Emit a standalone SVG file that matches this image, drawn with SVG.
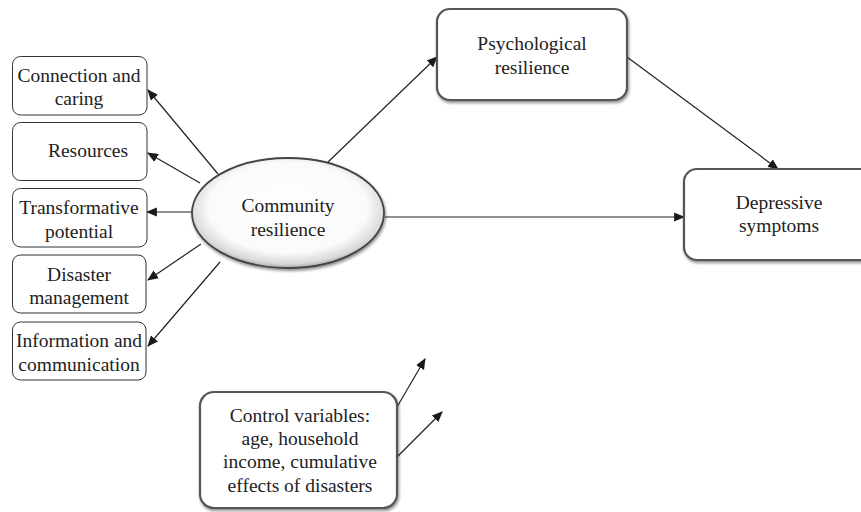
<svg xmlns="http://www.w3.org/2000/svg" width="861" height="512" viewBox="0 0 861 512">
<style>
text{font-family:'Liberation Serif',serif;font-size:19.5px;fill:#222;text-anchor:middle}
.sbox{fill:#fff;stroke:#333;stroke-width:1}
.bbox{fill:#fff;stroke:#555;stroke-width:2.2;filter:url(#sh)}
.edge{stroke:#222;stroke-width:1.2;fill:none;marker-end:url(#ah)}
</style>
<defs>
<marker id="ah" viewBox="0 0 10 10" refX="9" refY="5" markerWidth="11" markerHeight="11" markerUnits="userSpaceOnUse" orient="auto">
<path d="M0,0.8 L10,5 L0,9.2 z" fill="#1a1a1a"/>
</marker>
<filter id="sh" x="-10%" y="-10%" width="125%" height="130%">
<feGaussianBlur in="SourceAlpha" stdDeviation="1.5"/>
<feOffset dx="1" dy="2" result="b"/>
<feComponentTransfer in="b" result="c"><feFuncA type="linear" slope="0.45"/></feComponentTransfer>
<feMerge><feMergeNode in="c"/><feMergeNode in="SourceGraphic"/></feMerge>
</filter>
<radialGradient id="eg" cx="50%" cy="45%" r="55%">
<stop offset="0" stop-color="#fff"/>
<stop offset="0.75" stop-color="#fafafa"/>
<stop offset="0.93" stop-color="#d8d8d8"/>
<stop offset="1" stop-color="#aaa"/>
</radialGradient>
</defs>
<g id="connectors">
<line class="edge" x1="218" y1="174" x2="148" y2="90"/>
<line class="edge" x1="200" y1="183" x2="148" y2="153"/>
<line class="edge" x1="192" y1="212" x2="147" y2="212"/>
<line class="edge" x1="201" y1="244" x2="148" y2="280"/>
<line class="edge" x1="220" y1="262" x2="148" y2="346"/>
<line class="edge" x1="327" y1="163" x2="437" y2="57"/>
<line class="edge" x1="627" y1="57" x2="778" y2="169"/>
<line class="edge" x1="385" y1="217" x2="684" y2="217"/>
<line class="edge" x1="397" y1="407" x2="425" y2="359"/>
<line class="edge" x1="397" y1="457" x2="442" y2="412"/>
</g>
<g id="n-connection">
<rect class="sbox" x="12.5" y="56.5" width="134.5" height="58.5" rx="8"/>
<text x="79" y="82">Connection and</text>
<text x="79" y="105">caring</text>
</g>
<g id="n-resources">
<rect class="sbox" x="12.5" y="122.5" width="134.5" height="58" rx="8"/>
<text x="88" y="157">Resources</text>
</g>
<g id="n-transformative">
<rect class="sbox" x="12.5" y="188.5" width="134.5" height="58.5" rx="8"/>
<text x="79" y="214">Transformative</text>
<text x="79" y="238">potential</text>
</g>
<g id="n-disaster">
<rect class="sbox" x="12.5" y="255" width="133.5" height="58" rx="8"/>
<text x="79" y="281">Disaster</text>
<text x="79" y="304">management</text>
</g>
<g id="n-information">
<rect class="sbox" x="12.5" y="322" width="133.5" height="58" rx="8"/>
<text x="79" y="347">Information and</text>
<text x="79" y="371">communication</text>
</g>
<g id="n-community">
<ellipse cx="288" cy="213" rx="96" ry="55" fill="url(#eg)" stroke="#444" stroke-width="1.8" filter="url(#sh)"/>
<text x="288" y="212">Community</text>
<text x="288" y="236">resilience</text>
</g>
<g id="n-psychological">
<rect class="bbox" x="437" y="9" width="190" height="91" rx="13"/>
<text x="532" y="50">Psychological</text>
<text x="532" y="74">resilience</text>
</g>
<g id="n-depressive">
<rect class="bbox" x="684" y="169" width="192" height="91" rx="13"/>
<text x="779" y="209">Depressive</text>
<text x="779" y="232">symptoms</text>
</g>
<g id="n-control">
<rect class="bbox" x="200" y="392" width="197" height="116" rx="14"/>
<text x="300" y="422">Control variables:</text>
<text x="300" y="445">age, household</text>
<text x="300" y="468">income, cumulative</text>
<text x="300" y="492">effects of disasters</text>
</g>
</svg>
